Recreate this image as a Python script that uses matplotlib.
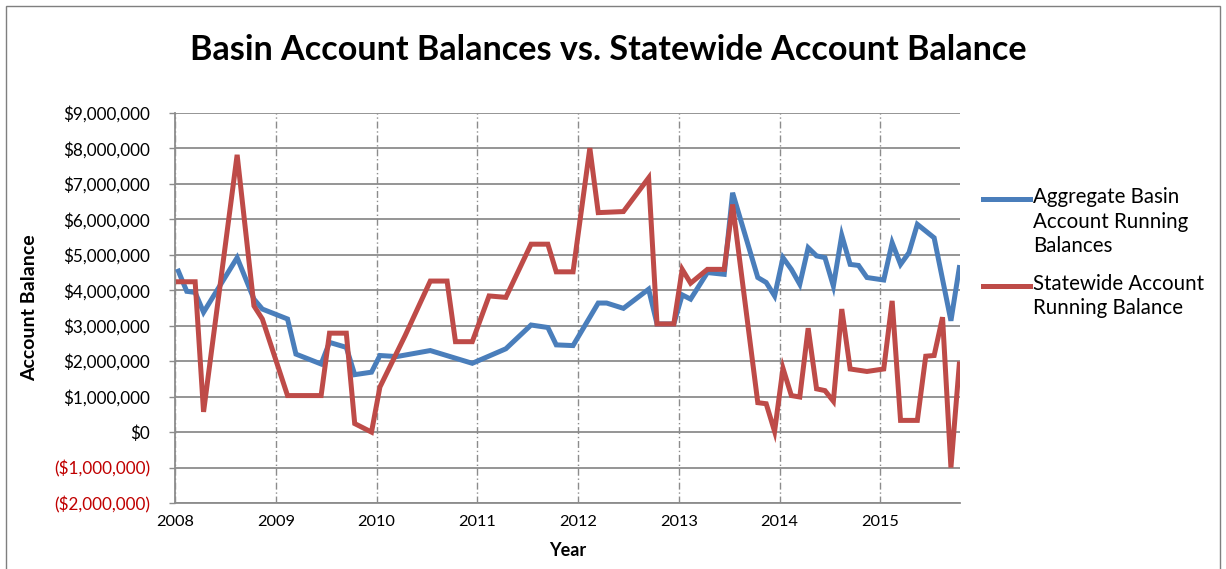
import matplotlib
matplotlib.use("Agg")
import matplotlib.pyplot as plt
from matplotlib.ticker import FuncFormatter, MultipleLocator
from matplotlib.patches import Rectangle
from matplotlib.lines import Line2D

plt.rcParams['font.family'] = ['Lato', 'DejaVu Sans']

# Month index (0 = Jan 2008) and balances in $ millions
basin_months = [0, 1, 2, 3, 7, 9, 10, 13, 14, 17, 18, 20, 21, 23, 24, 26, 30, 35,
                39, 42, 44, 45, 47, 50, 51, 53, 56, 57, 59, 60, 61, 63, 65, 66,
                69, 70, 71, 72, 73, 74, 75, 76, 77, 78, 79, 80, 81, 82, 84, 85,
                86, 87, 88, 90, 92, 93]
basin_values = [4.54, 3.97, 3.94, 3.38, 4.92, 3.75, 3.47, 3.19, 2.20, 1.92, 2.53, 2.39,
                1.62, 1.69, 2.16, 2.13, 2.30, 1.94, 2.35, 3.02, 2.95, 2.46, 2.44,
                3.64, 3.64, 3.49, 4.03, 3.05, 3.05, 3.87, 3.75, 4.50, 4.45, 6.75,
                4.36, 4.22, 3.84, 4.92, 4.59, 4.17, 5.20, 4.97, 4.92, 4.12, 5.55,
                4.73, 4.70, 4.36, 4.29, 5.34, 4.73, 5.06, 5.86, 5.48, 3.14, 4.64]

state_months = [0, 2, 3, 7, 9, 10, 13, 17, 18, 20, 21, 23, 24, 27, 30, 32, 33, 35,
                37, 39, 42, 44, 45, 47, 49, 50, 53, 56, 57, 59, 60, 61, 63, 65,
                66, 69, 70, 71, 72, 73, 74, 75, 76, 77, 78, 79, 80, 82, 84, 85,
                86, 88, 89, 90, 91, 92, 93]
state_values = [4.24, 4.24, 0.57, 7.82, 3.56, 3.19, 1.03, 1.03, 2.79, 2.79, 0.24, 0.00,
                1.27, 2.72, 4.26, 4.26, 2.55, 2.55, 3.84, 3.80, 5.30, 5.30, 4.52,
                4.52, 8.01, 6.19, 6.22, 7.17, 3.05, 3.05, 4.59, 4.20, 4.59, 4.59,
                6.42, 0.83, 0.80, 0.02, 1.80, 1.03, 0.99, 2.93, 1.22, 1.17, 0.87,
                3.47, 1.78, 1.71, 1.78, 3.70, 0.33, 0.33, 2.14, 2.16, 3.24, -1.00,
                1.92]

years = [2008, 2009, 2010, 2011, 2012, 2013, 2014, 2015]
series_names = ["Aggregate Basin\nAccount Running\nBalances",
                "Statewide Account\nRunning Balance"]

BLUE = "#4A7EBB"
RED = "#BE4B48"
GRID = "#8C8C8C"
W, H = 1226, 569

def to_year(months):
    return [2008 + (m + 0.4) / 12.0 for m in months]

fig = plt.figure(figsize=(W / 100, H / 100), dpi=100)
fig.patches.append(Rectangle((6 / W, -0.1), 1214 / W, 1.1 - 6 / H,
                             transform=fig.transFigure, fill=False,
                             edgecolor="#7F7F7F", linewidth=1.0))

ax = fig.add_axes([175 / W, 1 - 503 / H, 785 / W, 390 / H])

ax.plot(to_year(basin_months), [v * 1e6 for v in basin_values], color=BLUE,
        lw=3.6, solid_joinstyle="miter", zorder=3)
ax.plot(to_year(state_months), [v * 1e6 for v in state_values], color=RED,
        lw=3.6, solid_joinstyle="miter", zorder=4)

ax.set_xlim(2008, 2015.79)
ax.set_ylim(-2e6, 9e6)
ax.yaxis.set_major_locator(MultipleLocator(1e6))
ax.set_xticks(years)
ax.set_xticklabels([str(y) for y in years])

def money(v, pos):
    if v < 0:
        return "(${:,.0f})".format(-v)
    return "${:,.0f}".format(v)

ax.yaxis.set_major_formatter(FuncFormatter(money))
ax.tick_params(axis="y", length=4, width=1, color=GRID, pad=14, labelsize=12.3)
ax.tick_params(axis="x", length=0, pad=9, labelsize=11.8)
for lab in ax.get_yticklabels():
    if lab.get_text().startswith("("):
        lab.set_color("#C00000")

ax.grid(axis="y", color=GRID, lw=1.3, ls="-", zorder=0)
ax.grid(axis="x", color=GRID, lw=1.0, ls=(0, (5, 2, 1, 2)), zorder=0)
ax.set_axisbelow(True)
for s in ["top", "right"]:
    ax.spines[s].set_visible(False)
for s in ["left", "bottom"]:
    ax.spines[s].set_color(GRID)
    ax.spines[s].set_linewidth(1.3)

ax.set_xlabel("Year", fontsize=13, fontweight="bold", labelpad=9)
fig.text(30 / W, 1 - 308 / H, "Account Balance", rotation=90, ha="center",
         va="center", fontsize=14, fontweight="bold")

fig.text(608 / W, 1 - 50 / H, "Basin Account Balances vs. Statewide Account Balance",
         ha="center", va="center", fontsize=24.6, fontweight="bold")

# Legend (Excel style: handle aligned with first text line)
legend_y = [197, 284]
for name, color, y0 in zip(series_names, [BLUE, RED], legend_y):
    fig.add_artist(Line2D([983 / W, 1030 / W], [1 - (y0 + 2) / H] * 2,
                          transform=fig.transFigure, color=color, lw=3.6))
    for i, line in enumerate(name.split("\n")):
        fig.text(1033 / W, 1 - (y0 + 24.5 * i) / H, line, ha="left",
                 va="center", fontsize=14.8)

fig.savefig("out.png", dpi=100)
